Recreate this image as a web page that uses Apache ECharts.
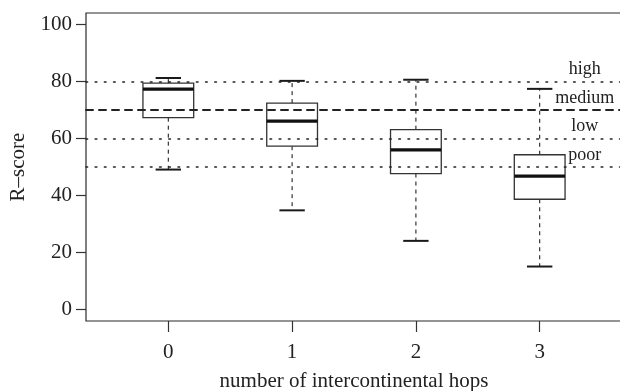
<!DOCTYPE html>
<html>
<head>
<meta charset="utf-8">
<script src="https://cdn.jsdelivr.net/npm/echarts@6/dist/echarts.min.js"></script>
<style>
html,body{margin:0;padding:0;background:#fff;}
#c{width:620px;height:391px;}
</style>
</head>
<body>
<div id="c"></div>
<script>
// ---- data ----
const categories = [0, 1, 2, 3];
const whiskerLow = [49.1, 34.8, 24.1, 15.1];
const quart1 = [67.3, 57.3, 47.7, 38.7];
const medians = [77.3, 66.1, 56.0, 46.8];
const quart3 = [79.4, 72.4, 63.1, 54.3];
const whiskerHigh = [81.2, 80.2, 80.6, 77.4];
const yTicks = [0, 20, 40, 60, 80, 100];
const zoneNames = ['high', 'medium', 'low', 'poor'];
const zoneValues = [80, 70, 60, 50];

// ---- styling constants ----
const FONT = '"Liberation Serif", "DejaVu Serif", serif';
const INK = '#222';
const BOX_W = 0.41;
const LABEL_X = 3.365;
const zoneStyles = [
  {type: [1.6, 7.6], width: 1.6},
  {type: [7, 6], width: 2},
  {type: [1.6, 7.6], width: 1.6},
  {type: [1.6, 7.6], width: 1.6}
];

const boxData = categories.map((c, i) => [c, whiskerLow[i], quart1[i], medians[i], quart3[i], whiskerHigh[i]]);

const chart = echarts.init(document.getElementById('c'), null, {renderer: 'canvas'});

chart.setOption({
  animation: false,
  backgroundColor: '#fff',
  grid: {
    left: 86, right: -2, top: 13, bottom: 70,
    show: true, borderColor: '#2a2a2a', borderWidth: 1.2, backgroundColor: 'transparent',
    containLabel: false,
    outerBoundsMode: 'none'
  },
  xAxis: {
    type: 'value',
    min: -0.665, max: 3.665,
    name: 'number of intercontinental hops',
    nameLocation: 'middle',
    nameGap: 50,
    nameTextStyle: {fontFamily: FONT, fontSize: 21, color: INK},
    axisLine: {show: false, onZero: false},
    splitLine: {show: false},
    axisTick: {show: true, inside: false, length: 11, customValues: categories, lineStyle: {color: '#333', width: 1.2}},
    axisLabel: {customValues: categories, margin: 21, fontFamily: FONT, fontSize: 21, color: INK}
  },
  yAxis: {
    type: 'value',
    min: -4, max: 104,
    name: 'R–score',
    nameLocation: 'middle',
    nameGap: 57,
    nameTextStyle: {fontFamily: FONT, fontSize: 21, color: INK},
    axisLine: {show: false, onZero: false},
    splitLine: {show: false},
    axisTick: {show: true, inside: false, length: 10, customValues: yTicks, lineStyle: {color: '#333', width: 1.2}},
    axisLabel: {customValues: yTicks, margin: 14, fontFamily: FONT, fontSize: 21, color: INK}
  },
  series: [
    {
      type: 'custom',
      data: boxData,
      encode: {x: 0, y: [1, 2, 3, 4, 5]},
      z: 3,
      renderItem: function (params, api) {
        const x = api.value(0);
        const lo = api.coord([x, api.value(1)]);
        const q1 = api.coord([x, api.value(2)]);
        const md = api.coord([x, api.value(3)]);
        const q3 = api.coord([x, api.value(4)]);
        const hi = api.coord([x, api.value(5)]);
        const hb = api.size([BOX_W, 0])[0] / 2;
        const hc = hb / 2;
        const cx = lo[0];
        const dash = {stroke: INK, lineWidth: 1.1, lineDash: [4, 4], fill: null};
        const cap = {stroke: '#1a1a1a', lineWidth: 2, fill: null};
        return {
          type: 'group',
          children: [
            {type: 'line', shape: {x1: cx, y1: q3[1], x2: cx, y2: hi[1]}, style: dash},
            {type: 'line', shape: {x1: cx, y1: q1[1], x2: cx, y2: lo[1]}, style: dash},
            {type: 'line', shape: {x1: cx - hc, y1: hi[1], x2: cx + hc, y2: hi[1]}, style: cap},
            {type: 'line', shape: {x1: cx - hc, y1: lo[1], x2: cx + hc, y2: lo[1]}, style: cap},
            {type: 'rect', shape: {x: cx - hb, y: q3[1], width: hb * 2, height: q1[1] - q3[1]},
              style: {stroke: '#333', lineWidth: 1.3, fill: null}},
            {type: 'line', shape: {x1: cx - hb, y1: md[1], x2: cx + hb, y2: md[1]},
              style: {stroke: '#111', lineWidth: 3.2, fill: null}}
          ]
        };
      },
      markLine: {
        silent: true,
        symbol: ['none', 'none'],
        label: {show: false},
        data: zoneValues.map((v, i) => ({
          yAxis: v,
          lineStyle: {color: '#222', type: zoneStyles[i].type, width: zoneStyles[i].width, cap: 'round'}
        }))
      }
    },
    {
      type: 'scatter',
      data: zoneValues.map(v => [LABEL_X, v]),
      symbolSize: 0,
      z: 4,
      itemStyle: {color: INK, opacity: 1},
      label: {
        show: true,
        position: 'top',
        distance: 3,
        formatter: p => zoneNames[p.dataIndex],
        fontFamily: FONT, fontSize: 18, color: INK, opacity: 1, textBorderWidth: 0
      }
    }
  ]
});
</script>
</body>
</html>
